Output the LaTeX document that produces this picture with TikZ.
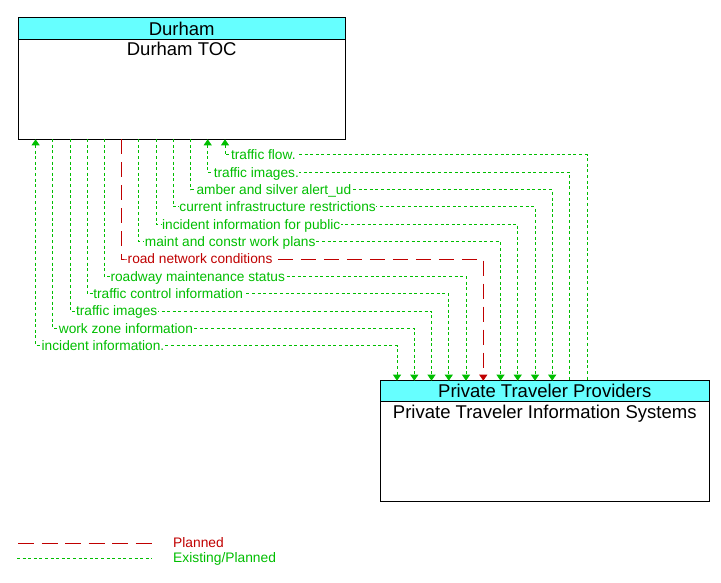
\documentclass[tikz,border=0pt]{standalone}
\usepackage{fontspec}
\setmainfont{Liberation Sans}
\usetikzlibrary{arrows.meta}
\definecolor{grn}{RGB}{0,190,0}
\definecolor{rd}{RGB}{192,0,0}
\definecolor{hdrc}{RGB}{102,255,255}
\begin{document}
\begin{tikzpicture}[x=1pt,y=-1pt,
  box/.style={draw=black,line width=1pt,fill=white,inner sep=0pt,outer sep=0pt,anchor=north west},
  hdr/.style={draw=black,line width=1pt,fill=hdrc,inner sep=0pt,outer sep=0pt,anchor=north west},
  btxt/.style={font=\fontsize{18.5}{22}\selectfont,anchor=base,inner sep=0pt},
  ex/.style={draw=grn,line width=1pt,dash pattern=on 3pt off 2.6pt},
  pl/.style={draw=rd,line width=1pt,dash pattern=on 15pt off 8pt},
  arrin/.style={{Triangle[width=8pt,length=6pt]}-},
  arrout/.style={-{Triangle[width=8pt,length=6pt]}},
  arrboth/.style={{Triangle[width=8pt,length=6pt]}-{Triangle[width=8pt,length=6pt]}},
  lbl/.style={anchor=west,fill=white,inner xsep=0.6pt,inner ysep=2pt,text height=10pt,text depth=0pt,font=\fontsize{13.7}{16}\selectfont},
  legtxt/.style={anchor=base west,inner sep=0pt,font=\fontsize{13.8}{16}\selectfont}
]
\useasboundingbox (0,0) rectangle (721,583);

% Durham box
\node[box,minimum width=327.5pt,minimum height=121.3pt] (dur) at (18,18) {};
\node[hdr,minimum width=327.5pt,minimum height=21.3pt] (durh) at (18,18) {};
\node[btxt] (durht) at (181.7,36) {Durham};
\node[btxt] (durt) at (181.7,55.7) {Durham TOC};

% Private box
\node[box,minimum width=328.3pt,minimum height=120.3pt] (ptis) at (380.7,380.7) {};
\node[hdr,minimum width=328.3pt,minimum height=21pt] (ptish) at (380.7,380.7) {};
\node[btxt] (ptisht) at (544.8,397.7) {Private Traveler Providers};
\node[btxt] (ptist) at (544.8,418.7) {Private Traveler Information Systems};

% flows
\draw[ex,arrin] ([xshift=207pt]dur.south west) |- (230,155) node[lbl,text=grn]{traffic flow.} -| ([xshift=206.3pt]ptis.north west);
\draw[ex,arrin] ([xshift=189.7pt]dur.south west) |- (212.7,172.3) node[lbl,text=grn]{traffic images.} -| ([xshift=188.8pt]ptis.north west);
\draw[ex,arrout] ([xshift=172.5pt]dur.south west) |- (195.5,189.7) node[lbl,text=grn]{amber and silver alert\_ud} -| ([xshift=171.5pt]ptis.north west);
\draw[ex,arrout] ([xshift=155.3pt]dur.south west) |- (178.3,207) node[lbl,text=grn]{current infrastructure restrictions} -| ([xshift=154.3pt]ptis.north west);
\draw[ex,arrout] ([xshift=138pt]dur.south west) |- (161,224.3) node[lbl,text=grn]{incident information for public} -| ([xshift=137pt]ptis.north west);
\draw[ex,arrout] ([xshift=120.8pt]dur.south west) |- (143.8,241.7) node[lbl,text=grn]{maint and constr work plans} -| ([xshift=119.8pt]ptis.north west);
\draw[pl,arrout] ([xshift=103.6pt]dur.south west) |- (126.6,259) node[lbl,text=rd]{road network conditions} -| ([xshift=102.6pt]ptis.north west);
\draw[ex,arrout] ([xshift=86.4pt]dur.south west) |- (109.4,276.3) node[lbl,text=grn]{roadway maintenance status} -| ([xshift=85.3pt]ptis.north west);
\draw[ex,arrout] ([xshift=69.2pt]dur.south west) |- (92.2,293.7) node[lbl,text=grn]{traffic control information} -| ([xshift=68.1pt]ptis.north west);
\draw[ex,arrout] ([xshift=52pt]dur.south west) |- (75,311) node[lbl,text=grn]{traffic images} -| ([xshift=50.8pt]ptis.north west);
\draw[ex,arrout] ([xshift=34.8pt]dur.south west) |- (57.8,328.3) node[lbl,text=grn]{work zone information} -| ([xshift=33.6pt]ptis.north west);
\draw[ex,arrboth] ([xshift=17.6pt]dur.south west) |- (40.6,345.7) node[lbl,text=grn]{incident information.} -| ([xshift=16.3pt]ptis.north west);

% legend
\coordinate (la) at (18,543);
\coordinate (lb) at (155,543);
\coordinate (lc) at (17,558);
\coordinate (ld) at (152,558);
\draw[pl,dash pattern=on 16pt off 7.5pt] (la) -- (lb);
\draw[ex] (lc) -- (ld);
\node[legtxt,text=rd] (lt1) at (173,547.7) {Planned};
\node[legtxt,text=grn] (lt2) at (173,562.7) {Existing/Planned};
\end{tikzpicture}
\end{document}
